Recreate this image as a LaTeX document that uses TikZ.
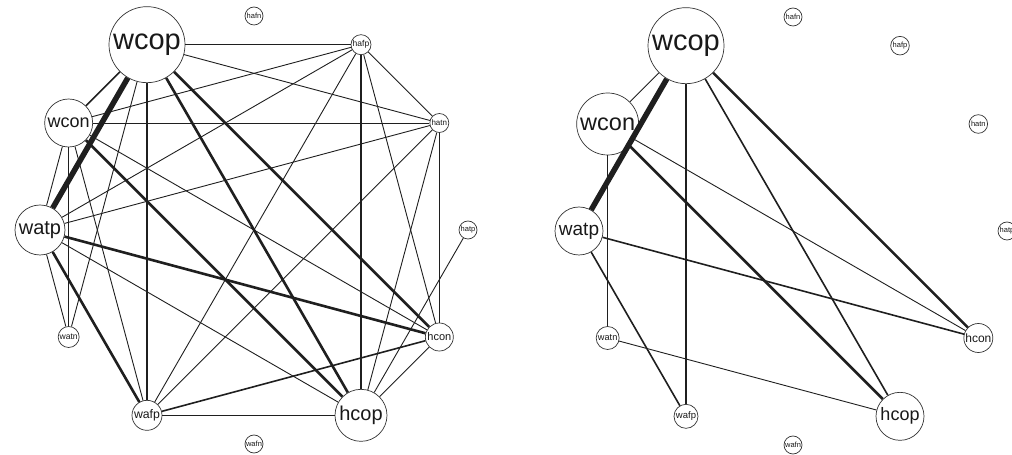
\documentclass[tikz,border=0pt]{standalone}
\usepackage{fontspec}
\setmainfont{Liberation Sans}
\begin{document}
\begin{tikzpicture}[x=1pt,y=1pt,
  vtx/.style={circle,draw=black!80,line width=0.7pt,fill=white,inner sep=0pt,text=black!90},
  edge/.style={draw=black!88,line cap=butt},
  e1/.style={edge,line width=0.9pt},
  e2/.style={edge,line width=1.6pt},
  e3/.style={edge,line width=2.6pt},
  e5/.style={edge,line width=5.5pt},
  fs/.style={font=\fontsize{#1}{#1}\selectfont}]
\useasboundingbox (0,0) rectangle (1012,455);

% ---------- full network ----------
\begin{scope}[shift={(254pt,225pt)}]
  \node[vtx,minimum size=18pt,fs=7.5] (L-hafn) at (90:214pt) {hafn};
  \node[vtx,minimum size=20pt,fs=8.5] (L-hafp) at (60:214pt) {hafp};
  \node[vtx,minimum size=19pt,fs=8] (L-hatn) at (30:214pt) {hatn};
  \node[vtx,minimum size=18pt,fs=7.5] (L-hatp) at (0:214pt) {hatp};
  \node[vtx,minimum size=28pt,fs=11] (L-hcon) at (-30:214pt) {hcon};
  \node[vtx,minimum size=52pt,fs=20] (L-hcop) at (-60:214pt) {hcop};
  \node[vtx,minimum size=18pt,fs=7.5] (L-wafn) at (-90:214pt) {wafn};
  \node[vtx,minimum size=30pt,fs=12.3] (L-wafp) at (-120:214pt) {wafp};
  \node[vtx,minimum size=21pt,fs=8.6] (L-watn) at (-150:214pt) {watn};
  \node[vtx,minimum size=50pt,fs=20] (L-watp) at (180:214pt) {watp};
  \node[vtx,minimum size=48pt,fs=18] (L-wcon) at (150:214pt) {wcon};
  \node[vtx,minimum size=76pt,fs=29] (L-wcop) at (120:214pt) {wcop};
\end{scope}

\draw[e2] (L-wcop) -- (L-wcon);
\draw[e5] (L-wcop) -- (L-watp);
\draw[e1] (L-wcop) -- (L-watn);
\draw[e3] (L-wcop) -- (L-wafp);
\draw[e3] (L-wcop) -- (L-hcop);
\draw[e3] (L-wcop) -- (L-hcon);
\draw[e1] (L-wcop) -- (L-hatn);
\draw[e1] (L-wcop) -- (L-hafp);
\draw[e1] (L-wcon) -- (L-watp);
\draw[e2] (L-wcon) -- (L-watn);
\draw[e1] (L-wcon) -- (L-wafp);
\draw[e3] (L-wcon) -- (L-hcop);
\draw[e1] (L-wcon) -- (L-hcon);
\draw[e1] (L-wcon) -- (L-hatn);
\draw[e1] (L-wcon) -- (L-hafp);
\draw[e1] (L-watp) -- (L-watn);
\draw[e3] (L-watp) -- (L-wafp);
\draw[e1] (L-watp) -- (L-hcop);
\draw[e3] (L-watp) -- (L-hcon);
\draw[e1] (L-watp) -- (L-hatn);
\draw[e1] (L-watp) -- (L-hafp);
\draw[e2] (L-wafp) -- (L-hcop);
\draw[e2] (L-wafp) -- (L-hcon);
\draw[e1] (L-wafp) -- (L-hatn);
\draw[e1] (L-wafp) -- (L-hafp);
\draw[e1] (L-hcop) -- (L-hcon);
\draw[e1] (L-hcop) -- (L-hatp);
\draw[e1] (L-hcop) -- (L-hatn);
\draw[e2] (L-hcop) -- (L-hafp);
\draw[e1] (L-hcon) -- (L-hatn);
\draw[e1] (L-hcon) -- (L-hafp);
\draw[e1] (L-hatn) -- (L-hafp);

% ---------- reduced network ----------
\begin{scope}[shift={(793pt,224pt)}]
  \node[vtx,minimum size=18pt,fs=7.5] (R-hafn) at (90:214pt) {hafn};
  \node[vtx,minimum size=18.6pt,fs=7.5] (R-hafp) at (60:214pt) {hafp};
  \node[vtx,minimum size=18.6pt,fs=7.5] (R-hatn) at (30:214pt) {hatn};
  \node[vtx,minimum size=18pt,fs=7.5] (R-hatp) at (0:214pt) {hatp};
  \node[vtx,minimum size=29pt,fs=12] (R-hcon) at (-30:214pt) {hcon};
  \node[vtx,minimum size=48pt,fs=18] (R-hcop) at (-60:214pt) {hcop};
  \node[vtx,minimum size=18pt,fs=7.5] (R-wafn) at (-90:214pt) {wafn};
  \node[vtx,minimum size=24pt,fs=9.5] (R-wafp) at (-120:214pt) {wafp};
  \node[vtx,minimum size=23pt,fs=9.2] (R-watn) at (-150:214pt) {watn};
  \node[vtx,minimum size=48pt,fs=19] (R-watp) at (180:214pt) {watp};
  \node[vtx,minimum size=62pt,fs=23.5] (R-wcon) at (150:214pt) {wcon};
  \node[vtx,minimum size=76pt,fs=29] (R-wcop) at (120:214pt) {wcop};
\end{scope}

\draw[e1] (R-wcop) -- (R-wcon);
\draw[e5] (R-wcop) -- (R-watp);
\draw[e2] (R-wcop) -- (R-wafp);
\draw[e2] (R-wcop) -- (R-hcop);
\draw[e3] (R-wcop) -- (R-hcon);
\draw[e2] (R-wcon) -- (R-watn);
\draw[e3] (R-wcon) -- (R-hcop);
\draw[e1] (R-wcon) -- (R-hcon);
\draw[e2] (R-watp) -- (R-hcon);
\draw[e2] (R-watp) -- (R-wafp);
\draw[e1] (R-watn) -- (R-hcop);
\end{tikzpicture}
\end{document}
